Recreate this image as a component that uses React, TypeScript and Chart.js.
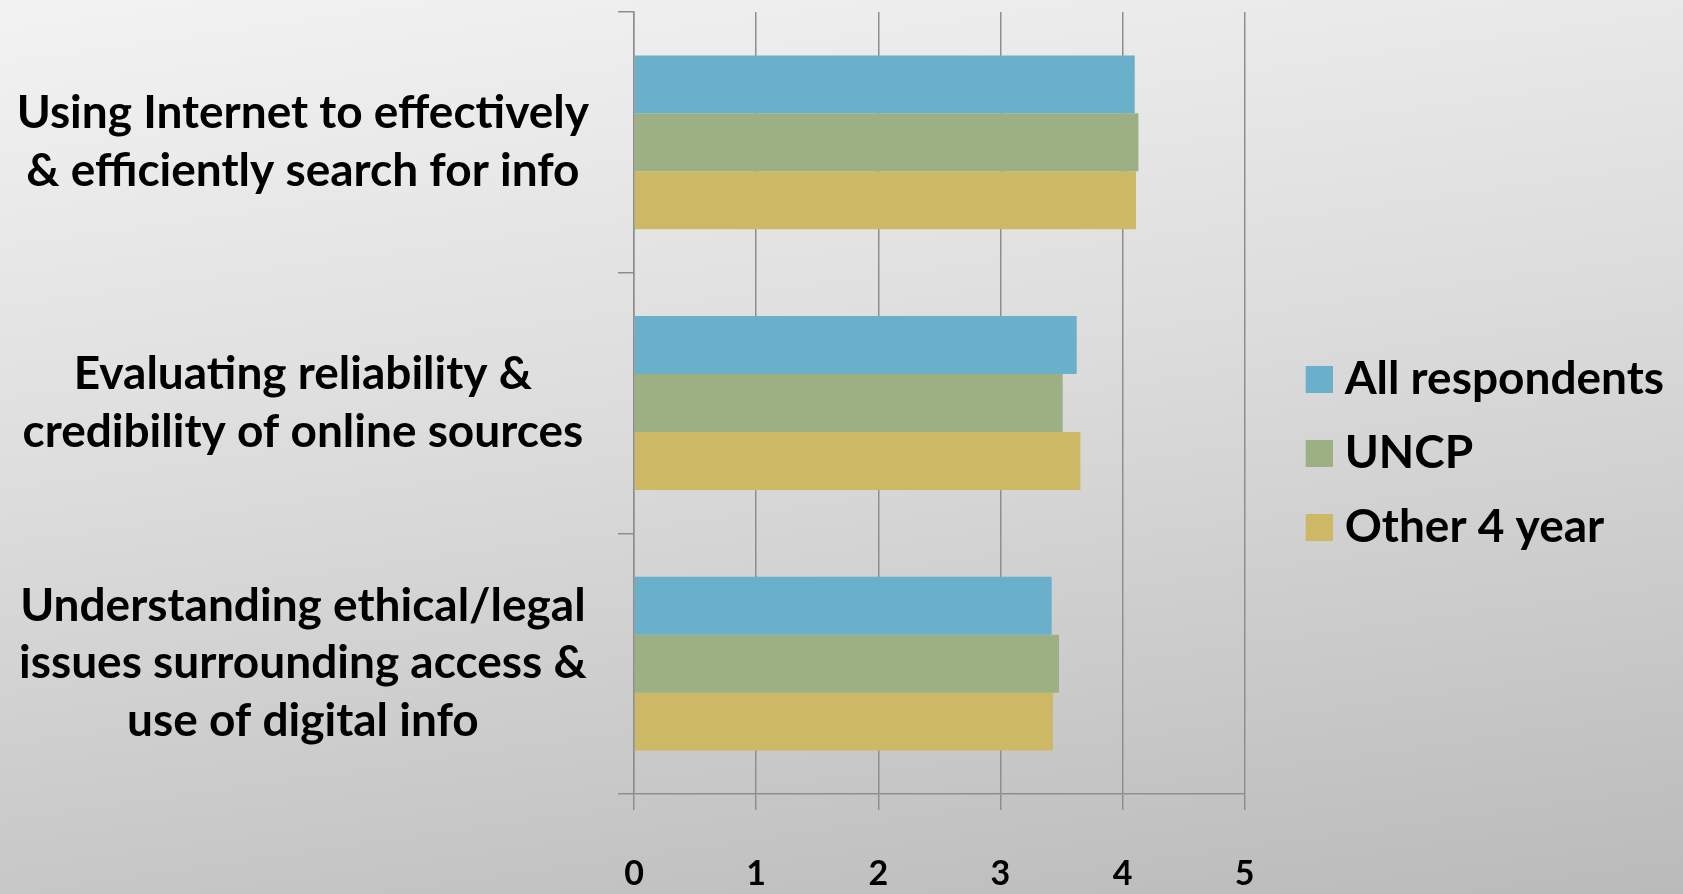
import React, { useEffect, useRef } from "react";
import { Chart, registerables } from "chart.js";

Chart.register(...registerables);

const categories: string[][] = [
  ["Using Internet to effectively", "& efficiently search for info"],
  ["Evaluating reliability &", "credibility of online sources"],
  ["Understanding ethical/legal", "issues surrounding access &", "use of digital info"],
];
const allRespondents = [4.1, 3.625, 3.42];
const uncp = [4.13, 3.51, 3.48];
const other4Year = [4.11, 3.655, 3.43];
const seriesNames = ["All respondents", "UNCP", "Other 4 year"];
const xTicks = [0, 1, 2, 3, 4, 5];

const COLORS = ["#6AB0CA", "#9DB084", "#CDB866"];
const GRID = "#8e8e8e";
const FONT = "Lato, 'Open Sans', sans-serif";

function makeIcon(color: string): HTMLCanvasElement {
  // 38 px wide image, square in the right 27 px, so the legend text sits close to the box
  const c = document.createElement("canvas");
  c.width = 38;
  c.height = 27;
  const ctx = c.getContext("2d")!;
  ctx.fillStyle = color;
  ctx.fillRect(11, 0, 27, 27);
  return c;
}

export default function App() {
  const ref = useRef<HTMLCanvasElement | null>(null);
  useEffect(() => {
    if (!ref.current) return;
    const icons = COLORS.map(makeIcon);
    const chart = new Chart(ref.current, {
      type: "bar",
      data: {
        labels: categories,
        datasets: [
          { label: seriesNames[0], data: allRespondents, backgroundColor: COLORS[0] },
          { label: seriesNames[1], data: uncp, backgroundColor: COLORS[1] },
          { label: seriesNames[2], data: other4Year, backgroundColor: COLORS[2] },
        ],
      },
      options: {
        indexAxis: "y",
        responsive: false,
        animation: false,
        layout: { padding: { top: 12, left: 0, right: 9, bottom: 0 } },
        datasets: { bar: { categoryPercentage: 0.667, barPercentage: 1.0, borderWidth: 0 } },
        plugins: {
          tooltip: { enabled: false },
          legend: {
            position: "right",
            align: "center",
            maxWidth: 480,
            labels: {
              usePointStyle: true,
              pointStyleWidth: 16,
              boxWidth: 27,
              boxHeight: 27,
              padding: 28,
              color: "#000",
              font: { family: FONT, size: 46, weight: "bold" },
              generateLabels: (ch: any) =>
                Chart.defaults.plugins.legend.labels
                  .generateLabels(ch)
                  .map((it: any, i: number) => ({ ...it, pointStyle: icons[i] })),
            },
          },
        },
        scales: {
          x: {
            type: "linear",
            min: 0,
            max: 5,
            afterBuildTicks: (s: any) => {
              s.ticks = xTicks.map((v) => ({ value: v }));
            },
            afterFit: (s: any) => {
              s.height = 100;
              s.paddingLeft = 0;
              s.paddingRight = 0;
            },
            grid: { color: GRID, lineWidth: 1.5, tickLength: 16, drawTicks: true },
            border: { display: true, color: GRID, width: 1.5 },
            ticks: {
              color: "#000",
              padding: 44,
              font: { family: FONT, size: 34, weight: "bold" },
            },
          },
          y: {
            type: "category",
            afterFit: (s: any) => {
              s.width = 634;
              s.paddingTop = 0;
              s.paddingBottom = 0;
            },
            grid: {
              drawOnChartArea: false,
              drawTicks: true,
              tickLength: 16,
              color: GRID,
              lineWidth: 1.5,
              offset: true,
            },
            border: { display: true, color: GRID, width: 1.5 },
            ticks: {
              color: "#000",
              crossAlign: "center",
              padding: 29,
              font: { family: FONT, size: 46, weight: "bold", lineHeight: 1.26 },
            },
          },
          spacer: {
            type: "linear",
            position: "right",
            display: true,
            grid: { display: false, drawTicks: false },
            border: { display: false },
            ticks: { display: false },
            afterFit: (s: any) => {
              s.width = 33;
              s.paddingTop = 0;
              s.paddingBottom = 0;
            },
          },
        },
      } as any,
    });
    return () => chart.destroy();
  }, []);

  return (
    <div
      style={{
        position: "fixed",
        left: 0,
        top: 0,
        width: 1683,
        height: 894,
        background: "linear-gradient(172deg, #f3f3f3 0%, #dcdcdc 45%, #bababa 100%)",
      }}
    >
      <canvas ref={ref} width={1683} height={894} style={{ display: "block" }} />
    </div>
  );
}
